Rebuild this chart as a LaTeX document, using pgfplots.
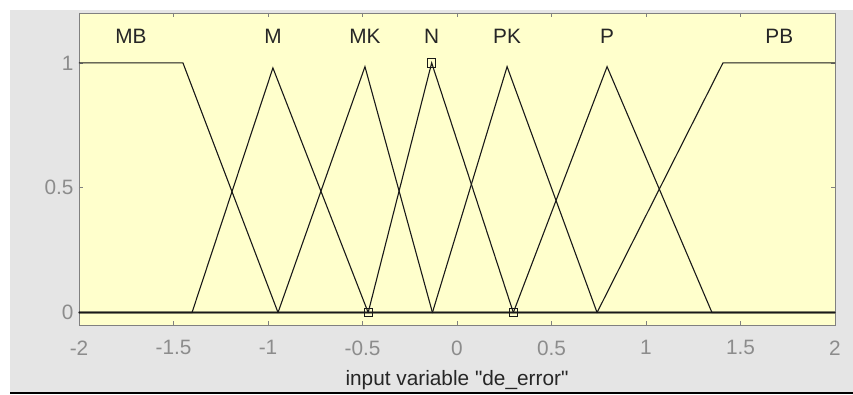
\documentclass[border=0pt]{standalone}
\usepackage{pgfplots}
\pgfplotsset{compat=1.18}
\usepackage{fontspec}
\setmainfont{Liberation Sans}
% same family without the TeX quote mapping, for straight quotes
\newfontfamily\plainsans{Liberation Sans}

\definecolor{mfbg}{RGB}{255,255,204}
\definecolor{figbg}{RGB}{229,229,229}
\definecolor{axgray}{RGB}{128,128,128}
\definecolor{ticktext}{RGB}{140,140,140}
\definecolor{labtext}{RGB}{38,38,38}
\definecolor{mfline}{RGB}{25,25,25}

\newcommand{\mffont}{\fontsize{20.8bp}{25bp}\selectfont}

\begin{document}
\begin{tikzpicture}[x=1bp,y=1bp]
\useasboundingbox (-79,-69) rectangle (774,325);
% figure background
\fill[white] (-79,-69) rectangle (774,325);
\fill[figbg] (-69,-67) rectangle (774,315);
\fill[black] (-69,-69) rectangle (774,-67.4);

\begin{axis}[
  at={(0,0)}, anchor=south west,
  scale only axis, width=756bp, height=312bp,
  xmin=-2, xmax=2, ymin=-0.05, ymax=1.2,
  axis background/.style={fill=mfbg},
  axis line style={axgray, line width=0.9bp},
  tick style={axgray, line width=0.8bp},
  major tick length=4bp,
  tick align=inside,
  xtick={-2,-1.5,-1,-0.5,0,0.5,1,1.5,2},
  xticklabels={-2,-1.5,-1,-0.5,0,0.5,1,1.5,2},
  ytick={0,0.5,1},
  yticklabels={0,0.5,1},
  ticklabel style={font=\mffont, text=ticktext},
  xticklabel style={yshift=-12bp},
  yticklabel style={xshift=-2bp},
  xlabel={input variable "de\_error"},
  xlabel style={font=\plainsans\mffont, text=labtext,
    at={(axis description cs:0.5,0)}, anchor=base, yshift=-60bp},
  clip=false,
]
% membership functions of de_error
\addplot[mfline, line width=1.1bp] coordinates {(-2,1) (-1.45,1) (-0.947,0) (2,0)};
\addplot[mfline, line width=1.1bp] coordinates {(-2,0) (-1.402,0) (-0.974,0.98) (-0.47,0) (2,0)};
\addplot[mfline, line width=1.1bp] coordinates {(-2,0) (-0.947,0) (-0.487,0.985) (-0.13,0) (2,0)};
\addplot[mfline, line width=1.1bp] coordinates {(-2,0) (-0.47,0) (-0.134,1) (0.298,0) (2,0)};
\addplot[mfline, line width=1.1bp] coordinates {(-2,0) (-0.13,0) (0.265,0.985) (0.741,0) (2,0)};
\addplot[mfline, line width=1.1bp] coordinates {(-2,0) (0.298,0) (0.794,0.985) (1.349,0) (2,0)};
\addplot[mfline, line width=1.1bp] coordinates {(-2,0) (0.741,0) (1.407,1) (2,1)};
% parameters of the selected function N
\addplot[only marks, mark=square, mark size=4.2bp, mfline, line width=0.8bp]
  coordinates {(-0.47,0) (-0.134,1) (0.298,0)};

% function names
\foreach \xx/\nm in {-1.725/MB, -0.974/M, -0.487/MK, -0.134/N, 0.265/PK, 0.794/P, 1.705/PB}{
  \edef\tmp{\noexpand\node[anchor=base, font=\noexpand\mffont, text=labtext]
    at (axis cs:\xx,1.076) {\nm};}
  \tmp
}
\end{axis}
\end{tikzpicture}
\end{document}
